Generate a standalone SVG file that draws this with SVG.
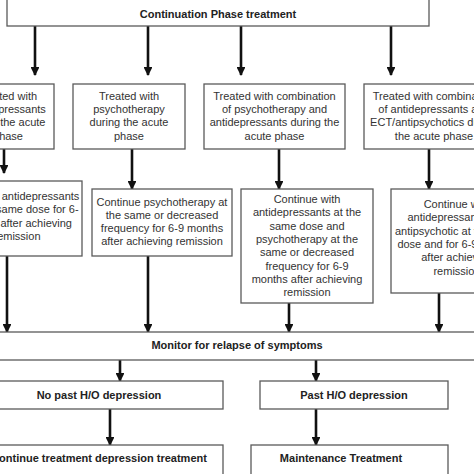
<svg xmlns="http://www.w3.org/2000/svg" width="474" height="474" viewBox="0 0 474 474">
<defs>
<marker id="ah" viewBox="0 0 10 10" refX="9" refY="5" markerWidth="3.4" markerHeight="3.4" markerUnits="strokeWidth" orient="auto">
<path d="M0,0 L10,5 L0,10 z" fill="#111"/>
</marker>
<style>
.box{fill:#fff;stroke:#5a5a5a;stroke-width:1.3}
.t{font-family:"Liberation Sans",Arial,sans-serif;font-size:11px;fill:#333;text-anchor:middle}
.b{font-weight:bold;fill:#222}
.c{stroke:#111;stroke-width:2.6;fill:none;marker-end:url(#ah)}
</style>
</defs>
<rect width="474" height="474" fill="#fff"/>
<g id="connectors">
<path class="c" d="M35,26 V75"/>
<path class="c" d="M148,26 V75"/>
<path class="c" d="M241,26 V75"/>
<path class="c" d="M391,26 V75"/>
<path class="c" d="M4,149 V173"/>
<path class="c" d="M132,149 V189"/>
<path class="c" d="M279,149 V189"/>
<path class="c" d="M429,149 V189"/>
<path class="c" d="M7,256 V332"/>
<path class="c" d="M148,256 V332"/>
<path class="c" d="M289,303 V332"/>
<path class="c" d="M439,293 V332"/>
<path class="c" d="M120,360 V381"/>
<path class="c" d="M316,360 V381"/>
<path class="c" d="M110,409 V445"/>
<path class="c" d="M316,409 V445"/>
</g>
<g id="top">
<rect class="box" x="7" y="-10" width="422" height="36"/>
<text class="t b" x="218" y="18">Continuation Phase treatment</text>
</g>
<g id="acute1">
<rect class="box" x="-40" y="84" width="94" height="65"/>
<text class="t" x="7" y="100">Treated with</text>
<text class="t" x="7" y="113">antidepressants</text>
<text class="t" x="6" y="126">during the acute</text>
<text class="t" x="8" y="140">phase</text>
</g>
<g id="acute2">
<rect class="box" x="73" y="84" width="112" height="65"/>
<text class="t" x="129" y="100">Treated with</text>
<text class="t" x="129" y="113">psychotherapy</text>
<text class="t" x="129" y="126">during the acute</text>
<text class="t" x="129" y="140">phase</text>
</g>
<g id="acute3">
<rect class="box" x="204" y="84" width="141" height="65"/>
<text class="t" x="274.5" y="100">Treated with combination</text>
<text class="t" x="274.5" y="113">of psychotherapy and</text>
<text class="t" x="274.5" y="126">antidepressants during the</text>
<text class="t" x="274.5" y="140">acute phase</text>
</g>
<g id="acute4">
<rect class="box" x="364" y="84" width="140" height="65"/>
<text class="t" x="434" y="100">Treated with combination</text>
<text class="t" x="434" y="113">of antidepressants and</text>
<text class="t" x="434" y="126">ECT/antipsychotics during</text>
<text class="t" x="434" y="140">the acute phase</text>
</g>
<g id="cont1">
<rect class="box" x="-50" y="181" width="132" height="75"/>
<text class="t" x="17" y="200">Continue antidepressants</text>
<text class="t" x="22" y="213">at the same dose for 6-</text>
<text class="t" x="12" y="227">9 months after achieving</text>
<text class="t" x="17" y="240">remission</text>
</g>
<g id="cont2">
<rect class="box" x="92" y="189" width="140" height="67"/>
<text class="t" x="162" y="206">Continue psychotherapy at</text>
<text class="t" x="162" y="219">the same or decreased</text>
<text class="t" x="162" y="232">frequency for 6-9 months</text>
<text class="t" x="162" y="245">after achieving remission</text>
</g>
<g id="cont3">
<rect class="box" x="241" y="189" width="132" height="114"/>
<text class="t" x="307" y="203">Continue with</text>
<text class="t" x="307" y="216">antidepressants at the</text>
<text class="t" x="307" y="230">same dose and</text>
<text class="t" x="307" y="243">psychotherapy at the</text>
<text class="t" x="307" y="256">same or decreased</text>
<text class="t" x="307" y="270">frequency for 6-9</text>
<text class="t" x="307" y="283">months after achieving</text>
<text class="t" x="307" y="296">remission</text>
</g>
<g id="cont4">
<rect class="box" x="391" y="189" width="130" height="104"/>
<text class="t" x="457" y="208">Continue with</text>
<text class="t" x="457" y="221">antidepressants and</text>
<text class="t" x="457" y="235">antipsychotic at the same</text>
<text class="t" x="457" y="248">dose and for 6-9 months</text>
<text class="t" x="457" y="261">after achieving</text>
<text class="t" x="457" y="275">remission</text>
</g>
<g id="monitor">
<rect class="box" x="-10" y="332" width="494" height="28"/>
<text class="t b" x="237" y="349">Monitor for relapse of symptoms</text>
</g>
<g id="nopast">
<rect class="box" x="-10" y="381" width="233" height="28"/>
<text class="t b" x="99" y="399">No past H/O depression</text>
</g>
<g id="past">
<rect class="box" x="260" y="381" width="188" height="28"/>
<text class="t b" x="354" y="399">Past H/O depression</text>
</g>
<g id="continue">
<rect class="box" x="-10" y="445" width="233" height="40"/>
<text class="t b" x="99" y="462">Continue treatment depression treatment</text>
</g>
<g id="maint">
<rect class="box" x="251" y="445" width="197" height="40"/>
<text class="t b" x="341" y="462">Maintenance Treatment</text>
</g>
</svg>
